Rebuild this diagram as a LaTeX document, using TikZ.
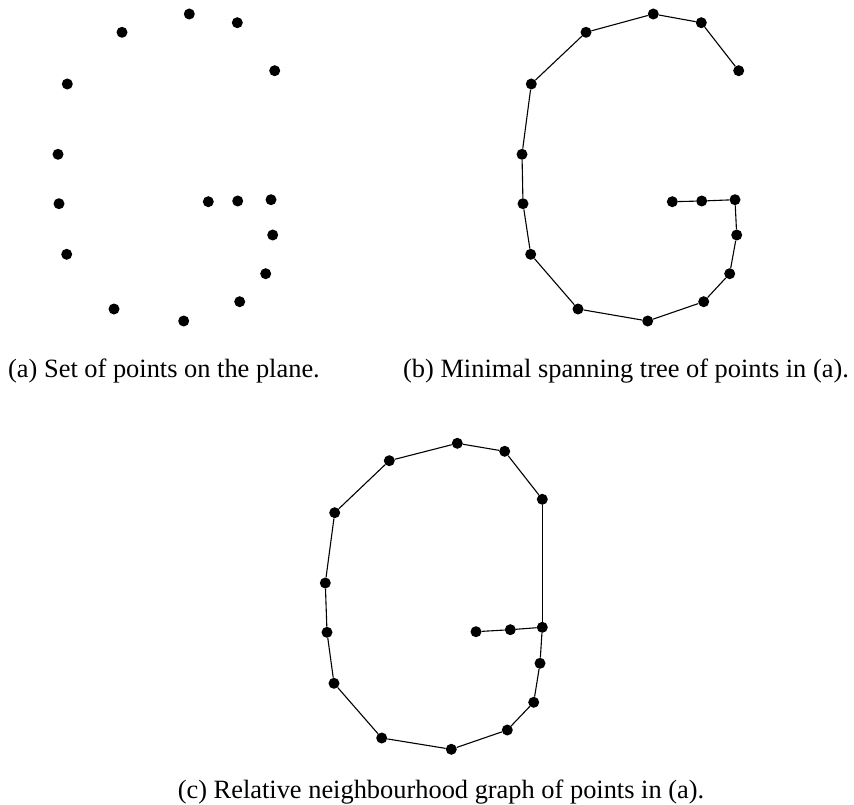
\documentclass[tikz,border=0pt]{standalone}
\usepackage{fontspec}
\setmainfont{Liberation Serif}
\tikzset{
  pt/.style={circle, fill=black, inner sep=0pt, minimum size=11pt},
  edge/.style={line width=1.1pt},
  caption/.style={anchor=base, inner sep=0pt, font=\fontsize{26.4}{30}\selectfont}
}
\begin{document}
\begin{tikzpicture}[x=1pt, y=-1pt]
\useasboundingbox (0,0) rectangle (854,805);

% panels (a) and (b): the same points
\foreach \n/\px/\py in {1/189.3/14, 2/237.3/22.7, 3/122/32.3, 4/274.7/70.7,
    5/67.3/84, 6/58/154.3, 7/59/203.7, 8/208.3/201.7, 9/237.7/201,
    10/271/199.7, 11/272.7/235, 12/66.7/254.3, 13/265.7/273.7,
    14/239.7/301.7, 15/114/309, 16/183.7/321} {
  \node[pt] (a\n) at (\px, \py) {};
  \node[pt] (b\n) at (\px+464, \py) {};
}
% panel (c)
\foreach \n/\px/\py in {1/457.3/443.3, 2/504.7/451.3, 3/389.3/460.7,
    4/542.3/499.3, 5/334.7/512.7, 6/325.3/583, 7/327/632.3, 8/476/631.7,
    9/510.3/629.7, 10/542.3/627.3, 11/540/663.3, 12/334/683.3,
    13/533.7/702.3, 14/507.3/730, 15/381.7/738, 16/451.3/749.3} {
  \node[pt] (c\n) at (\px, \py) {};
}

% minimal spanning tree
\foreach \u/\v in {1/2, 2/4, 1/3, 3/5, 5/6, 6/7, 7/12, 12/15, 15/16,
    16/14, 14/13, 13/11, 11/10, 10/9, 9/8} {
  \draw[edge] (b\u) -- (b\v);
  \draw[edge] (c\u) -- (c\v);
}
% relative neighbourhood graph has one more edge
\draw[edge] (c4) -- (c10);

\node[caption] (capa) at (164, 377) {(a) Set of points on the plane.};
\node[caption] (capb) at (626, 377) {(b) Minimal spanning tree of points in (a).};
\node[caption] (capc) at (441, 798) {(c) Relative neighbourhood graph of points in (a).};
\end{tikzpicture}
\end{document}
